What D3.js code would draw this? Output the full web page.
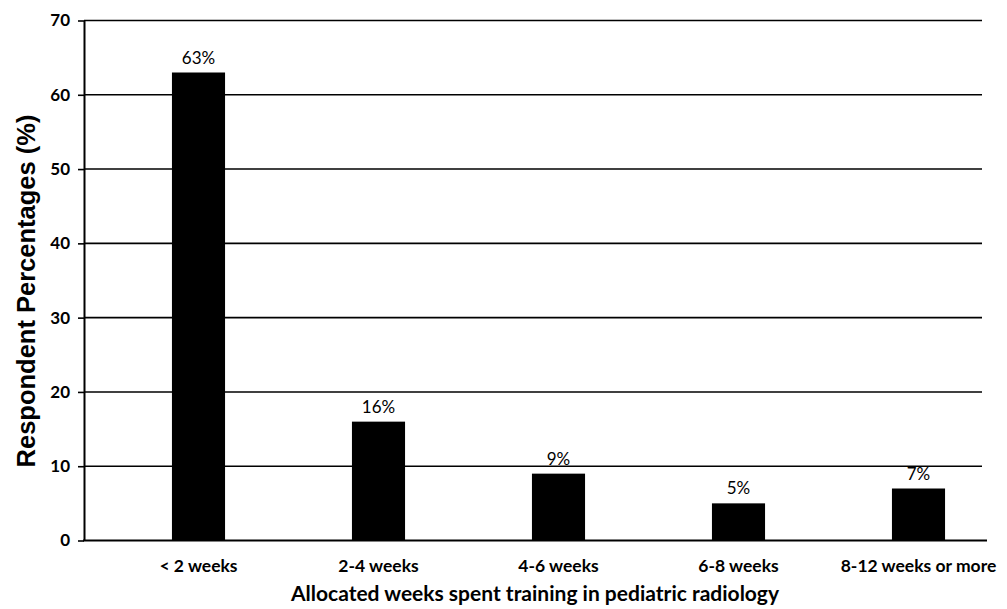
<!DOCTYPE html>
<html>
<head>
<meta charset="utf-8">
<script src="https://cdn.jsdelivr.net/npm/d3@7/dist/d3.min.js"></script>
<style>
  html, body { margin: 0; padding: 0; background: #fff; }
  svg { display: block; }
</style>
</head>
<body>
<svg id="chart" width="1007" height="609"></svg>
<script>
// Survey responses: allocated weeks of pediatric radiology training
const categories = ["< 2 weeks", "2-4 weeks", "4-6 weeks", "6-8 weeks", "8-12 weeks or more"];
const percentages = [63, 16, 9, 5, 7];
const yTicks = [0, 10, 20, 30, 40, 50, 60, 70];

const svg = d3.select("#chart");

const plot = { left: 84, right: 982, top: 20.5, bottom: 540.5 };

const y = d3.scaleLinear().domain([0, 70]).range([plot.bottom, plot.top]);
const x = d3.scaleBand()
  .domain(categories)
  .range([108.5, 1008.5])
  .paddingInner(0.705)
  .paddingOuter(0.3525);

const labelFont = "Lato, 'Open Sans', sans-serif";

// horizontal gridlines
svg.append("g")
  .selectAll("line")
  .data(yTicks.filter(d => d > 0))
  .join("line")
  .attr("x1", plot.left)
  .attr("x2", plot.right)
  .attr("y1", d => y(d))
  .attr("y2", d => y(d))
  .attr("stroke", "#000")
  .attr("stroke-width", 1.6);

// bars
svg.append("g")
  .selectAll("rect")
  .data(percentages)
  .join("rect")
  .attr("x", (d, i) => x(categories[i]))
  .attr("y", d => y(d))
  .attr("width", x.bandwidth())
  .attr("height", d => y(0) - y(d))
  .attr("fill", "#000");

// value labels
svg.append("g")
  .selectAll("text")
  .data(percentages)
  .join("text")
  .attr("x", (d, i) => x(categories[i]) + x.bandwidth() / 2)
  .attr("y", d => y(d) - 9)
  .attr("text-anchor", "middle")
  .attr("font-family", labelFont)
  .attr("font-size", 17)
  .attr("fill", "#000")
  .text(d => d + "%");

// y axis
const yAxis = d3.axisLeft(y).tickValues(yTicks).tickSize(6).tickPadding(8).tickSizeOuter(0);
const gy = svg.append("g").attr("transform", `translate(${plot.left},0)`).call(yAxis);
gy.select(".domain").attr("stroke", "#000").attr("stroke-width", 2);
gy.selectAll(".tick line").attr("stroke", "#000").attr("stroke-width", 1.6);
gy.selectAll(".tick text")
  .attr("font-family", labelFont)
  .attr("font-weight", "bold")
  .attr("font-size", 17)
  .attr("fill", "#000");

// x axis baseline and category labels
const xAxis = d3.axisBottom(x).tickSize(0).tickPadding(19).tickSizeOuter(0);
const gx = svg.append("g").attr("transform", `translate(0,${plot.bottom})`).call(xAxis);
gx.select(".domain").remove();
gx.selectAll(".tick text")
  .attr("font-family", labelFont)
  .attr("font-weight", "bold")
  .attr("font-size", 17.5)
  .attr("fill", "#000");
svg.append("line")
  .attr("x1", plot.left - 1)
  .attr("x2", 987)
  .attr("y1", plot.bottom)
  .attr("y2", plot.bottom)
  .attr("stroke", "#000")
  .attr("stroke-width", 2);

// axis titles
svg.append("text")
  .attr("x", 535)
  .attr("y", 601)
  .attr("text-anchor", "middle")
  .attr("font-family", labelFont)
  .attr("font-weight", "bold")
  .attr("font-size", 21)
  .attr("fill", "#000")
  .text("Allocated weeks spent training in pediatric radiology");

svg.append("text")
  .attr("transform", `translate(35,291) rotate(-90)`)
  .attr("text-anchor", "middle")
  .attr("font-family", "'Liberation Sans', Arial, sans-serif")
  .attr("font-weight", "bold")
  .attr("font-size", 25.5)
  .attr("fill", "#000")
  .text("Respondent Percentages (%)");
</script>
</body>
</html>
